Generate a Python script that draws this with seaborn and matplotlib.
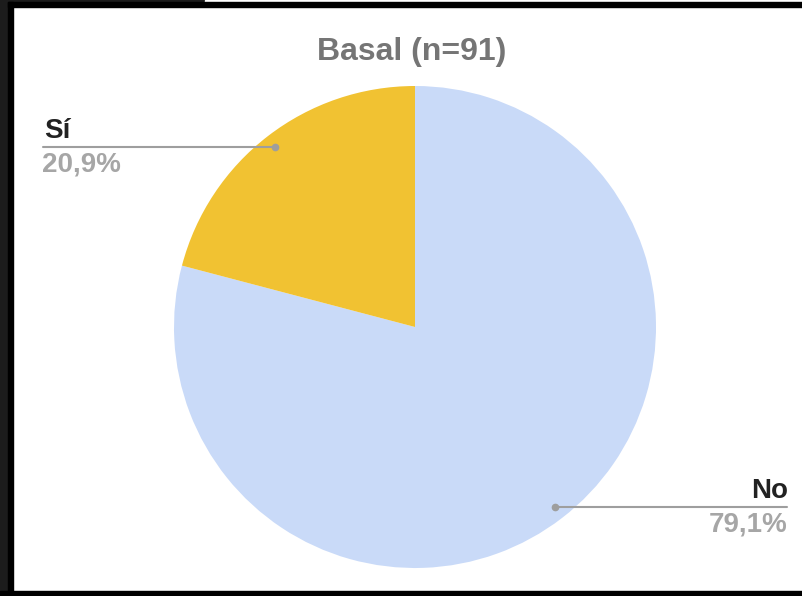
import matplotlib
matplotlib.use("Agg")
import matplotlib.pyplot as plt
import matplotlib.patches as mpatches
import seaborn as sns

# datos
labels = ["No", "Sí"]
values = [79.1, 20.9]
pct_text = ["79,1%", "20,9%"]
colors = ["#c9daf8", "#f1c232"]
title = "Basal (n=91)"

W, H = 803, 596

sns.set_theme(style="white")
plt.rcParams['font.family'] = ['Liberation Sans', 'DejaVu Sans']

fig = plt.figure(figsize=(W / 100, H / 100), dpi=100)
fig.patch.set_facecolor("#1c1c1c")
ax = fig.add_axes([0, 0, 1, 1])
ax.set_facecolor("#1c1c1c")

# marco de la captura (coordenadas en pixeles, y hacia arriba)
ax.add_patch(mpatches.Rectangle((13, 5), W - 13, H - 12, color="white", zorder=0))
ax.add_patch(mpatches.Rectangle((205, H - 2), W - 205, 2, color="white", zorder=0))
ax.add_patch(mpatches.Rectangle((8, 0), 5, H - 2, color="black", zorder=0.5))
ax.add_patch(mpatches.Rectangle((8, H - 7), W - 8, 5, color="black", zorder=0.5))
ax.add_patch(mpatches.Rectangle((0, 0), W, 5, color="black", zorder=0.5))

cx, cy, r = 415, H - 327, 241
ax.pie(values, colors=colors, startangle=90, counterclock=False,
       center=(cx, cy), radius=r, frame=True,
       wedgeprops=dict(linewidth=0))

ax.set_xlim(0, W)
ax.set_ylim(0, H)
ax.set_aspect("auto")
ax.axis("off")

ax.text(412, H - 52, title, ha="center", va="center",
        fontsize=23, fontweight="bold", color="#757575")

line_col = "#9e9e9e"
# Sí
ax.plot([43, 275], [H - 147, H - 147], color=line_col, lw=1.5, zorder=5)
ax.plot([275], [H - 147], "o", color=line_col, ms=4.5, zorder=5)
ax.text(44, H - 144, labels[1], ha="left", va="bottom", fontsize=20,
        fontweight="bold", color="#222222")
ax.text(42, H - 152, pct_text[1], ha="left", va="top", fontsize=20,
        fontweight="bold", color="#a6a6a6")
# No
ax.plot([555, 787], [H - 507, H - 507], color=line_col, lw=1.5, zorder=5)
ax.plot([555], [H - 507], "o", color=line_col, ms=4.5, zorder=5)
ax.text(788, H - 504, labels[0], ha="right", va="bottom", fontsize=20,
        fontweight="bold", color="#222222")
ax.text(788, H - 511, pct_text[0], ha="right", va="top", fontsize=20,
        fontweight="bold", color="#a6a6a6")

fig.savefig("out.png", dpi=100, facecolor=fig.get_facecolor())
